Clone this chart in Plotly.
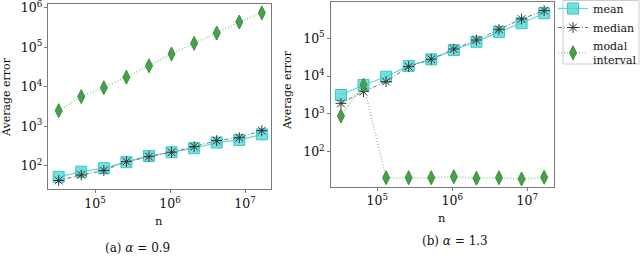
import plotly.graph_objects as go

# Data
n_values = [32768, 65536, 131072, 262144, 524288, 1048576, 2097152, 4194304, 8388608, 16777216]

mean_a = [52, 70, 86, 122, 176, 218, 276, 383, 448, 620]
median_a = [42, 58, 75, 126, 169, 218, 303, 430, 510, 770]
modal_a = [2460, 5600, 9400, 17400, 33700, 67000, 125000, 228000, 434000, 740000]

mean_b = [3160, 5800, 9600, 18600, 27700, 49000, 81000, 148000, 250000, 460000]
median_b = [1900, 3900, 7100, 17800, 28000, 52000, 90000, 173000, 324000, 540000]
modal_b = [880, 5800, 20.5, 20.5, 20.5, 21.8, 19.8, 20.5, 19.0, 21.0]

series_names = ["mean", "median", "modal<br>interval"]
captions = ["(a) <i>α</i> = 0.9", "(b) <i>α</i> = 1.3"]
y_title = "Average error"
x_title = "n"

W, H = 640, 259
FONT = "DejaVu Serif"

mean_style = dict(mode="lines+markers",
                  line=dict(color="#5fd8d8", width=1.2),
                  marker=dict(symbol="square", size=11, color="rgba(72,212,212,0.75)",
                              line=dict(color="#3cc6c6", width=1)))
median_style = dict(mode="lines+markers",
                    line=dict(color="#707070", width=1, dash="4px,2px,1px,2px"),
                    marker=dict(symbol="asterisk", size=9, color="#333333",
                                line=dict(color="#333333", width=1)))
modal_style = dict(mode="lines+markers",
                   line=dict(color="#8ccf8c", width=1.5, dash="1px,2px"),
                   marker=dict(symbol="diamond-tall", size=10, color="#4aa04a",
                               line=dict(color="#3b8f3b", width=1)))

fig = go.Figure()
panels = [(mean_a, median_a, modal_a, "x", "y"), (mean_b, median_b, modal_b, "x2", "y2")]
for i, (me, md, mo, xa, ya) in enumerate(panels):
    fig.add_trace(go.Scatter(x=n_values, y=me, name=series_names[0], xaxis=xa, yaxis=ya,
                             showlegend=(i == 1), **mean_style))
    fig.add_trace(go.Scatter(x=n_values, y=md, name=series_names[1], xaxis=xa, yaxis=ya,
                             showlegend=(i == 1), **median_style))
    fig.add_trace(go.Scatter(x=n_values, y=mo, name=series_names[2], xaxis=xa, yaxis=ya,
                             showlegend=(i == 1), **modal_style))

def px(x):
    return x / W

def py(y):
    return 1 - y / H

axis_common = dict(type="log", dtick=1, exponentformat="power", showgrid=False,
                   zeroline=False, showline=True, linecolor="#7a7a7a", linewidth=1,
                   mirror=True, ticks="outside", ticklen=3, tickcolor="#7a7a7a",
                   ticklabeloverflow="allow",
                   tickfont=dict(family=FONT, size=10, color="#111111"))

fig.update_layout(
    width=W, height=H,
    margin=dict(l=0, r=0, t=0, b=0, autoexpand=False),
    paper_bgcolor="white", plot_bgcolor="white",
    font=dict(family=FONT, size=11, color="#111111"),
    xaxis=dict(domain=[px(48.3), px(270.5)], range=[4.377, 7.34], anchor="y", **axis_common),
    yaxis=dict(domain=[py(189.3), py(4.3)], range=[1.40, 6.086], anchor="x", **axis_common),
    xaxis2=dict(domain=[px(330.7), px(554)], range=[4.379, 7.356], anchor="y2", **axis_common),
    yaxis2=dict(domain=[py(186.7), py(2)], range=[1.074, 5.96], anchor="x2", **axis_common),
    legend=dict(x=px(553), y=py(-6), xanchor="left", yanchor="top",
                borderwidth=0, bgcolor="rgba(0,0,0,0)",
                font=dict(family=FONT, size=11, color="#111111"),
                itemwidth=30, tracegroupgap=0),
    showlegend=True,
    shapes=[dict(type="rect", xref="paper", yref="paper",
                 x0=px(563), x1=px(639), y0=py(64), y1=py(0.5),
                 line=dict(color="#cccccc", width=1), fillcolor="rgba(0,0,0,0)", layer="below")],
)

def label(x, y, text, size, angle=0):
    return dict(x=px(x), y=py(y), text=text, showarrow=False, xref="paper", yref="paper",
                xanchor="center", yanchor="middle", textangle=angle,
                font=dict(family=FONT, size=size, color="#111111"))

ann = [
    label(159, 221, x_title, 11.5),
    label(442, 218, x_title, 11.5),
    label(7, 97, y_title, 11, -90),
    label(288, 90, y_title, 11, -90),
    label(137, 248, captions[0], 12),
    label(455, 241, captions[1], 12),
]
fig.update_layout(annotations=ann)

fig.write_html("out.html", config={"displayModeBar": False},
               post_script="document.body.style.margin='0';")
